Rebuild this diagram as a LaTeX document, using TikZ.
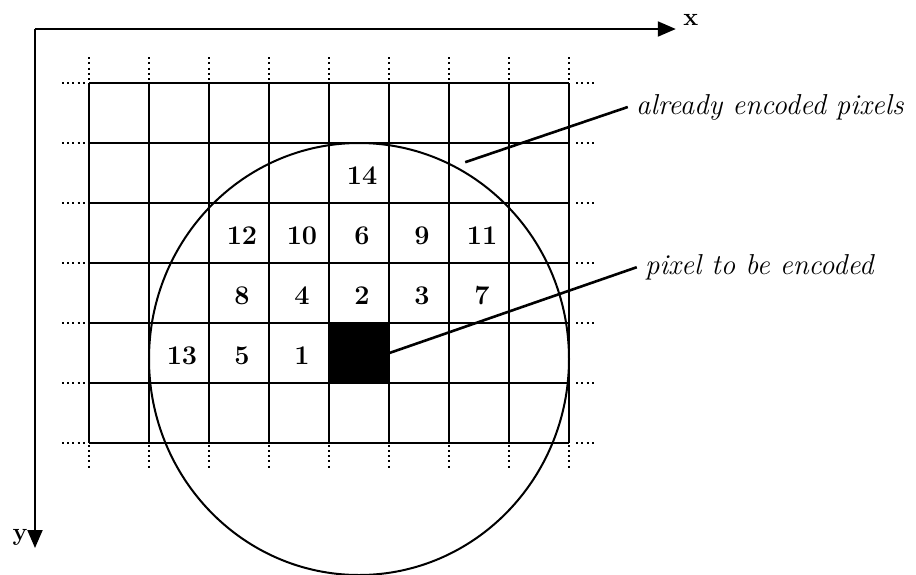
\documentclass[tikz,border=0pt]{standalone}
\usetikzlibrary{arrows.meta,positioning}

\begin{document}
\begin{tikzpicture}[x=30pt, y=-30pt,
    gridline/.style={line width=1.15pt},
    dotline/.style={line width=1pt, dash pattern=on 1pt off 1.6pt},
    axis/.style={line width=1pt, -{Triangle[length=9pt, width=7.5pt]}},
    axislab/.style={font=\fontsize{12.5}{14}\selectfont\bfseries, inner sep=0pt},
    leader/.style={line width=1.3pt},
    num/.style={font=\fontsize{13.5}{15}\selectfont\bfseries, inner sep=0pt},
    tag/.style={anchor=west, inner sep=4pt, font=\fontsize{14.4}{17}\selectfont\itshape}]
    \useasboundingbox (-1.4833,-1.3833) rectangle (13.7833,8.1833);

    % Draw axes
    \coordinate (orig) at (-0.9,-0.9);
    \coordinate (xend) at (9.78,-0.9);
    \coordinate (yend) at (-0.9,7.75);
    \draw[axis] (orig) -- (xend);
    \draw[axis] (orig) -- (yend);
    \node[axislab] (xlab) at (10.03,-1.05) {x};
    \node[axislab, anchor=east] (ylab) at (-1.02,7.57) {y};

    % Draw dotted continuation of the grid
    \foreach \i in {0,...,8} {
      \draw[dotline] (\i,-0.43) -- (\i,-0.03);
      \draw[dotline] (\i,6.03) -- (\i,6.45);
    }
    \foreach \j in {0,...,6} {
      \draw[dotline] (-0.45,\j) -- (-0.03,\j);
      \draw[dotline] (8.12,\j) -- (8.45,\j);
    }

    % Draw current pixel
    \node[fill=black, minimum size=30pt, inner sep=0pt] (cur) at (4.5,4.5) {};

    % Draw grid
    \foreach \i in {0,...,8}
      \draw[gridline] (\i,0) -- (\i,6);
    \foreach \j in {0,...,6}
      \draw[gridline] (0,\j) -- (8,\j);

    % Draw order of the neighbour pixels
    \foreach \c/\r/\n in {4/1/14, 2/2/12, 3/2/10, 4/2/6, 5/2/9, 6/2/11,
        2/3/8, 3/3/4, 4/3/2, 5/3/3, 6/3/7, 1/4/13, 2/4/5, 3/4/1}
      \node[num] (n\n) at (\c+0.55,\r+0.55) {\n};

    % Draw neighbourhood circle
    \draw[line width=1pt] (4.5,4.6) ellipse [x radius=3.5, y radius=3.6];

    % Draw labels with leader lines
    \coordinate (encpt) at (6.27,1.32);
    \node[tag] (enc) at (8.98,0.4) {already encoded pixels};
    \draw[leader] (encpt) -- (enc.west);
    \node[tag] (tbe) at (9.13,3.07) {pixel to be encoded};
    \draw[leader] (cur.east) -- (tbe.west);

  \end{tikzpicture}
\end{document}
